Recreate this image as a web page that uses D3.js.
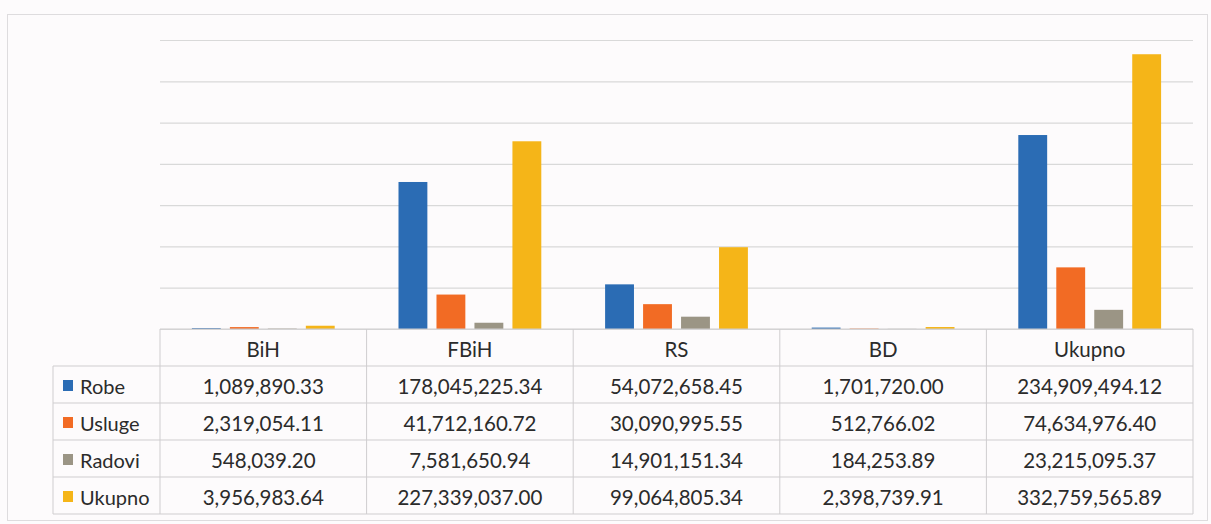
<!DOCTYPE html>
<html>
<head>
<meta charset="utf-8">
<script src="https://cdn.jsdelivr.net/npm/d3@7"></script>
<style>
  html, body { margin: 0; padding: 0; background: #fdfbfc; }
  svg { display: block; }
  text { font-family: Lato, "Open Sans", sans-serif; fill: #2b2b2b; }
</style>
</head>
<body>
<svg id="chart" width="1211" height="524"></svg>
<script>
const categories = ["BiH", "FBiH", "RS", "BD", "Ukupno"];
const seriesNames = ["Robe", "Usluge", "Radovi", "Ukupno"];
const robe   = [1089890.33, 178045225.34, 54072658.45, 1701720.00, 234909494.12];
const usluge = [2319054.11, 41712160.72, 30090995.55, 512766.02, 74634976.40];
const radovi = [548039.20, 7581650.94, 14901151.34, 184253.89, 23215095.37];
const ukupno = [3956983.64, 227339037.00, 99064805.34, 2398739.91, 332759565.89];
const yTicks = [0, 50000000, 100000000, 150000000, 200000000, 250000000, 300000000, 350000000];
const colors = ["#2b6cb4", "#f26b24", "#9b9585", "#f5b518"];

const seriesValues = [robe, usluge, radovi, ukupno];

const svg = d3.select("#chart");

// outer frame
svg.append("rect").attr("x", 7.5).attr("y", 14.5).attr("width", 1200).attr("height", 506)
  .attr("fill", "none").attr("stroke", "#dedcde").attr("stroke-width", 1);

const plotLeft = 160, plotRight = 1193, plotTop = 40, plotBottom = 329;

const x0 = d3.scaleBand().domain(categories).range([plotLeft, plotRight]).padding(0);
const x1 = d3.scaleBand().domain(seriesNames).range([0, x0.bandwidth()])
  .paddingInner(0.24).paddingOuter(0.84);
const y = d3.scaleLinear().domain([0, d3.max(yTicks)]).range([plotBottom, plotTop]);

// gridlines
const grid = svg.append("g").attr("transform", `translate(${plotLeft},0)`)
  .call(d3.axisLeft(y).tickValues(yTicks).tickSize(-(plotRight - plotLeft)).tickFormat(""));
grid.select(".domain").remove();
grid.selectAll("line").attr("stroke", "#d9d9d9").attr("stroke-width", 1.2);

// bars
const groups = svg.append("g").selectAll("g").data(categories).join("g")
  .attr("transform", d => `translate(${x0(d)},0)`);
groups.selectAll("rect")
  .data((c, ci) => seriesNames.map((s, si) => ({ s, si, v: seriesValues[si][ci] })))
  .join("rect")
  .attr("x", d => x1(d.s))
  .attr("width", x1.bandwidth())
  .attr("y", d => y(d.v))
  .attr("height", d => y(0) - y(d.v))
  .attr("fill", d => colors[d.si]);

// data table
const tableTop = plotBottom, headerH = 37, rowH = 37, legendLeft = 53;
const tableBottom = tableTop + headerH + rowH * seriesNames.length;
const lineColor = "#cfcdcf";
const tbl = svg.append("g");
const fmt = d3.format(",.2f");

tbl.append("line").attr("x1", plotLeft).attr("x2", plotRight)
  .attr("y1", tableTop).attr("y2", tableTop).attr("stroke", lineColor);
seriesNames.concat(["_end"]).forEach((s, i) => {
  const yy = tableTop + headerH + i * rowH;
  tbl.append("line").attr("x1", legendLeft).attr("x2", plotRight)
    .attr("y1", yy).attr("y2", yy).attr("stroke", lineColor);
});
tbl.append("line").attr("x1", legendLeft).attr("x2", legendLeft)
  .attr("y1", tableTop + headerH).attr("y2", tableBottom).attr("stroke", lineColor);
categories.forEach(c => {
  tbl.append("line").attr("x1", x0(c)).attr("x2", x0(c))
    .attr("y1", tableTop).attr("y2", tableBottom).attr("stroke", lineColor);
});
tbl.append("line").attr("x1", plotRight).attr("x2", plotRight)
  .attr("y1", tableTop).attr("y2", tableBottom).attr("stroke", lineColor);

tbl.selectAll("text.hdr").data(categories).join("text").attr("class", "hdr")
  .attr("x", d => x0(d) + x0.bandwidth() / 2)
  .attr("y", tableTop + headerH / 2 + 1)
  .attr("text-anchor", "middle").attr("dominant-baseline", "central")
  .attr("font-size", 20.5).text(d => d);

seriesNames.forEach((s, si) => {
  const cy = tableTop + headerH + si * rowH + rowH / 2 + 1;
  tbl.append("rect").attr("x", 63).attr("y", cy - 5.5).attr("width", 10).attr("height", 11)
    .attr("fill", colors[si]);
  tbl.append("text").attr("x", 80).attr("y", cy).attr("dominant-baseline", "central")
    .attr("font-size", 20).text(s);
  categories.forEach((c, ci) => {
    tbl.append("text")
      .attr("x", x0(c) + x0.bandwidth() / 2).attr("y", cy)
      .attr("text-anchor", "middle").attr("dominant-baseline", "central")
      .attr("font-size", 20.5).text(fmt(seriesValues[si][ci]));
  });
});
</script>
</body>
</html>
